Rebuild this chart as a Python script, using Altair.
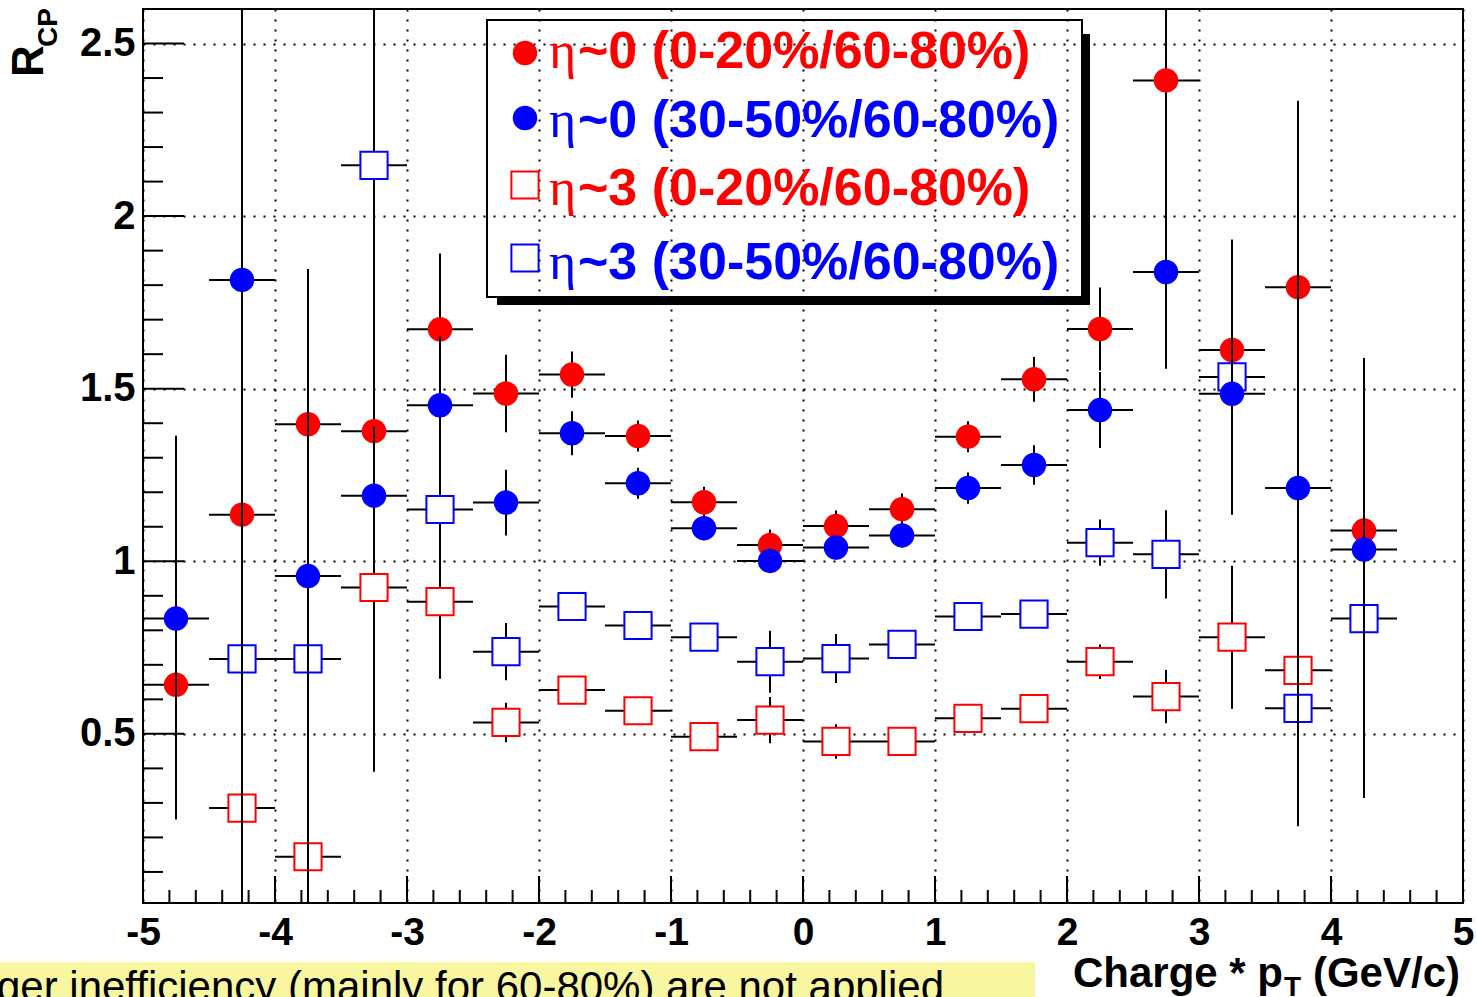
import altair as alt
import pandas as pd

# Bin centres of charge * pT (GeV/c); every bin is 0.5 GeV/c wide
pt = [-4.75, -4.25, -3.75, -3.25, -2.75, -2.25, -1.75, -1.25, -0.75, -0.25,
      0.25, 0.75, 1.25, 1.75, 2.25, 2.75, 3.25, 3.75, 4.25]
half_width = 0.25

# eta~0, 0-20% / 60-80%
rcp_eta0_c = [0.642, 1.135, 1.397, 1.377, 1.672, 1.486, 1.541, 1.363, 1.171, 1.047,
              1.102, 1.151, 1.361, 1.527, 1.673, 2.393, 1.612, 1.794, 1.089]
err_eta0_c = [0.39, 0.25, 0.446, 0.2, 0.22, 0.112, 0.067, 0.045, 0.045, 0.045,
              0.045, 0.045, 0.045, 0.065, 0.12, 0.6, 0.32, 0.54, 0.5]

# eta~0, 30-50% / 60-80%
rcp_eta0_m = [0.834, 1.815, 0.957, 1.19, 1.452, 1.17, 1.371, 1.226, 1.096, 1.001,
              1.04, 1.075, 1.212, 1.279, 1.438, 1.838, 1.485, 1.212, 1.034]
err_eta0_m = [0.53, 1.9, 0.89, 0.2, 0.2, 0.095, 0.064, 0.045, 0.035, 0.035,
              0.035, 0.035, 0.045, 0.057, 0.11, 0.28, 0.35, 0.98, 0.55]

# eta~3, 0-20% / 60-80%
rcp_eta3_c = [None, 0.285, 0.144, 0.924, 0.883, 0.533, 0.627, 0.567, 0.492, 0.54,
              0.478, 0.478, 0.545, 0.573, 0.709, 0.608, 0.78, 0.684, None]
err_eta3_c = [None, 0.1, 0.35, 0.1, 0.22, 0.057, 0.03, 0.03, 0.03, 0.067,
              0.05, 0.03, 0.03, 0.03, 0.05, 0.077, 0.207, 0.1, None]

# eta~3, 30-50% / 60-80%
rcp_eta3_m = [None, 0.717, 0.717, 2.147, 1.15, 0.738, 0.869, 0.814, 0.78, 0.709,
              0.718, 0.759, 0.84, 0.847, 1.054, 1.02, 1.534, 0.574, 0.834]
err_eta3_m = [None, 0.2, 0.2, 1.757, 0.49, 0.083, 0.03, 0.03, 0.03, 0.09,
              0.071, 0.03, 0.03, 0.03, 0.067, 0.128, 0.15, 0.1, 0.52]

legend_labels = ["~0 (0-20%/60-80%)", "~0 (30-50%/60-80%)",
                 "~3 (0-20%/60-80%)", "~3 (30-50%/60-80%)"]

x_major = [-5, -4, -3, -2, -1, 0, 1, 2, 3, 4, 5]
x_minor = [round(-5 + 0.2 * i, 1) for i in range(51) if i % 5 != 0]
y_major = [0.5, 1.0, 1.5, 2.0, 2.5]
y_minor = [round(0.1 * i, 1) for i in range(1, 27) if i % 5 != 0]

RED = "#ff0000"
BLUE = "#0000ff"
FONT = "Liberation Sans"
W, H = 1320, 894


def series(vals, errs):
    rows = []
    for x, v, e in zip(pt, vals, errs):
        if v is None:
            continue
        rows.append({"x": x, "y": v, "lo": v - e, "hi": v + e,
                     "xl": x - half_width, "xr": x + half_width})
    return pd.DataFrame(rows)


d_eta0_c = series(rcp_eta0_c, err_eta0_c)
d_eta0_m = series(rcp_eta0_m, err_eta0_m)
d_eta3_c = series(rcp_eta3_c, err_eta3_c)
d_eta3_m = series(rcp_eta3_m, err_eta3_m)

xs = alt.Scale(domain=[-5, 5], nice=False, zero=False)
ys = alt.Scale(domain=[0.01, 2.6], nice=False, zero=False)

ax_x = alt.Axis(values=x_major, grid=True, gridDash=[2, 8], gridColor="black",
                gridWidth=2, gridOpacity=1, ticks=False, domain=False,
                labelFont=FONT, labelFontWeight="bold", labelFontSize=39,
                labelColor="black", labelPadding=10, labelFlush=False,
                labelOverlap=False, labelExpr="'' + datum.value", title=None)
ax_y = alt.Axis(values=y_major, grid=True, gridDash=[2, 8], gridColor="black",
                gridWidth=2, gridOpacity=1, ticks=False, domain=False,
                labelFont=FONT, labelFontWeight="bold", labelFontSize=40,
                labelColor="black", labelPadding=8, labelFlush=False,
                labelOverlap=False, labelExpr="'' + datum.value", title=None)


def X(field):
    return alt.X(field, type="quantitative", scale=xs, axis=ax_x)


def Y(field):
    return alt.Y(field, type="quantitative", scale=ys, axis=ax_y)


one = pd.DataFrame({"k": [0]})

layers = []

# Inward-pointing axis ticks
layers.append(alt.Chart(pd.DataFrame({"v": x_major})).mark_rule(color="black", strokeWidth=2)
              .encode(x=X("v"), y=alt.value(H), y2=alt.value(H - 27)))
layers.append(alt.Chart(pd.DataFrame({"v": x_minor})).mark_rule(color="black", strokeWidth=2)
              .encode(x=X("v"), y=alt.value(H), y2=alt.value(H - 13)))
layers.append(alt.Chart(pd.DataFrame({"v": y_major})).mark_rule(color="black", strokeWidth=2)
              .encode(y=Y("v"), x=alt.value(0), x2=alt.value(41)))
layers.append(alt.Chart(pd.DataFrame({"v": y_minor})).mark_rule(color="black", strokeWidth=2)
              .encode(y=Y("v"), x=alt.value(0), x2=alt.value(20)))

# Legend frame with drop shadow
layers.append(alt.Chart(one).mark_rect(fill="black")
              .encode(x=alt.value(939), x2=alt.value(947), y=alt.value(25), y2=alt.value(296)))
layers.append(alt.Chart(one).mark_rect(fill="black")
              .encode(x=alt.value(354), x2=alt.value(947), y=alt.value(288), y2=alt.value(296)))
layers.append(alt.Chart(one).mark_rect(fillOpacity=0, stroke="black", strokeWidth=2)
              .encode(x=alt.value(344), x2=alt.value(939), y=alt.value(11), y2=alt.value(288)))


def errors(df):
    v = alt.Chart(df).mark_rule(color="black", strokeWidth=2, clip=True).encode(
        x=X("x"), y=Y("lo"), y2="hi")
    h = alt.Chart(df).mark_rule(color="black", strokeWidth=2, clip=True).encode(
        x=X("xl"), x2="xr", y=Y("y"))
    return [v, h]


def squares(df, color):
    return alt.Chart(df).mark_point(shape="square", filled=False, fill="white",
                                    stroke=color, strokeWidth=2, size=740,
                                    opacity=1, clip=True).encode(x=X("x"), y=Y("y"))


def circles(df, color):
    return alt.Chart(df).mark_point(shape="circle", filled=True, fill=color,
                                    color=color, size=600, opacity=1,
                                    clip=True).encode(x=X("x"), y=Y("y"))


# Forward-rapidity points (open squares)
layers += errors(d_eta3_c)
layers += errors(d_eta3_m)
layers.append(squares(d_eta3_c, RED))
layers.append(squares(d_eta3_m, BLUE))

# Mid-rapidity points (filled circles)
layers += errors(d_eta0_c)
layers.append(circles(d_eta0_c, RED))
layers += errors(d_eta0_m)
layers.append(circles(d_eta0_m, BLUE))

# Legend entries
marker_y = [44, 109, 176, 249]
text_y = [59, 128, 196, 270]
colors = [RED, BLUE, RED, BLUE]
for i, (lab, col) in enumerate(zip(legend_labels, colors)):
    if i < 2:
        m = alt.Chart(one).mark_point(shape="circle", filled=True, fill=col, color=col,
                                      size=600, opacity=1)
    else:
        m = alt.Chart(one).mark_point(shape="square", filled=False, fill="white",
                                      stroke=col, strokeWidth=2, size=740, opacity=1)
    layers.append(m.encode(x=alt.value(382), y=alt.value(marker_y[i])))
    layers.append(alt.Chart(one).mark_text(text="η", font="Liberation Serif", fontSize=52,
                                           color=col, align="left", baseline="alphabetic")
                  .encode(x=alt.value(406), y=alt.value(text_y[i])))
    layers.append(alt.Chart(one).mark_text(text=lab, font=FONT, fontSize=52, fontWeight="bold",
                                           color=col, align="left", baseline="alphabetic")
                  .encode(x=alt.value(435), y=alt.value(text_y[i])))

# Axis titles: R_CP and Charge * p_T (GeV/c)
layers.append(alt.Chart(one).mark_text(text="R", font=FONT, fontSize=44, fontWeight="bold",
                                       color="black", angle=270, align="left",
                                       baseline="alphabetic")
              .encode(x=alt.value(-100), y=alt.value(68)))
layers.append(alt.Chart(one).mark_text(text="CP", font=FONT, fontSize=28, fontWeight="bold",
                                       color="black", angle=270, align="left",
                                       baseline="alphabetic")
              .encode(x=alt.value(-86), y=alt.value(38)))
layers.append(alt.Chart(one).mark_text(text="Charge * p", font=FONT, fontSize=42,
                                       fontWeight="bold", color="black", align="right",
                                       baseline="alphabetic")
              .encode(x=alt.value(1140), y=alt.value(978)))
layers.append(alt.Chart(one).mark_text(text="T", font=FONT, fontSize=28, fontWeight="bold",
                                       color="black", align="left", baseline="alphabetic")
              .encode(x=alt.value(1141), y=alt.value(987)))
layers.append(alt.Chart(one).mark_text(text="(GeV/c)", font=FONT, fontSize=42,
                                       fontWeight="bold", color="black", align="right",
                                       baseline="alphabetic")
              .encode(x=alt.value(1317), y=alt.value(978)))

# Footnote banner below the plot
layers.append(alt.Chart(one).mark_rect(fill="#f9f6a2")
              .encode(x=alt.value(-143), x2=alt.value(892), y=alt.value(953), y2=alt.value(990)))
layers.append(alt.Chart(one).mark_text(text="Trigger inefficiency (mainly for 60-80%) are not applied",
                                       font=FONT, fontSize=42, color="black", align="right",
                                       baseline="alphabetic")
              .encode(x=alt.value(801), y=alt.value(992)))

chart = alt.layer(*layers).properties(
    width=W, height=H,
    padding={"left": 143, "top": 9, "right": 14, "bottom": 94},
    autosize=alt.AutoSizeParams(type="none"),
    background="white",
).configure_view(stroke="black", strokeWidth=2)

chart.save("out.html", embed_options={"renderer": "svg", "actions": False})
